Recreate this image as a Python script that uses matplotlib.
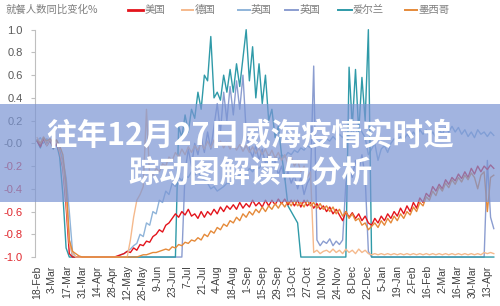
import numpy as np
import pandas as pd
import matplotlib
matplotlib.use('Agg')
import matplotlib.pyplot as plt
from matplotlib.patches import Rectangle
from matplotlib.lines import Line2D

plt.rcParams['font.family'] = ['Liberation Sans', 'Noto Sans CJK SC', 'DejaVu Sans']

# ---------------- data (one value every 3 days) ----------------
start_date = '2020-02-18'
n_points = 143

tick_labels = ['18-Feb', '3-Mar', '17-Mar', '31-Mar', '14-Apr', '28-Apr', '12-May', '26-May',
               '9-Jun', '23-Jun', '7-Jul', '21-Jul', '4-Aug', '18-Aug', '1-Sep', '15-Sep',
               '29-Sep', '13-Oct', '27-Oct', '10-Nov', '24-Nov', '8-Dec', '22-Dec', '5-Jan',
               '19-Jan', '2-Feb', '16-Feb', '2-Mar', '16-Mar', '30-Mar', '13-Apr']

series_names = ['美国', '德国', '英国', '英国', '爱尔兰', '墨西哥']

usa = [0.02, -0.03, 0.04, -0.02, 0.03, -0.04, 0.0, -0.08, -0.22, -0.55,
       -0.97, -1, -1, -1, -1, -1, -1, -1, -1, -1,
       -1, -1, -1, -1, -1, -0.99, -0.98, -0.97, -0.95, -0.96,
       -0.92, -0.94, -0.89, -0.9, -0.86, -0.87, -0.82, -0.8, -0.76, -0.78,
       -0.72, -0.7, -0.66, -0.62, -0.65, -0.6, -0.63, -0.58, -0.64, -0.62,
       -0.66, -0.6, -0.65, -0.6, -0.63, -0.58, -0.62, -0.56, -0.6, -0.55,
       -0.58, -0.54, -0.58, -0.52, -0.57, -0.53, -0.56, -0.5, -0.55, -0.52,
       -0.56, -0.5, -0.55, -0.5, -0.54, -0.49, -0.53, -0.49, -0.54, -0.5,
       -0.55, -0.5, -0.56, -0.5, -0.55, -0.52, -0.57, -0.53, -0.58, -0.55,
       -0.6, -0.56, -0.62, -0.58, -0.63, -0.68, -0.6, -0.65, -0.61, -0.66,
       -0.62, -0.68, -0.64, -0.7, -0.72, -0.66, -0.7, -0.64, -0.68, -0.62,
       -0.66, -0.6, -0.64, -0.57, -0.62, -0.55, -0.6, -0.52, -0.57, -0.48,
       -0.52, -0.44, -0.47, -0.38, -0.42, -0.36, -0.4, -0.32, -0.36, -0.3,
       -0.33, -0.27, -0.31, -0.25, -0.3, -0.22, -0.27, -0.2, -0.25, -0.2,
       -0.23, -0.19, -0.22]

germany = [0.05, 0.0, 0.06, -0.02, 0.04, -0.03, 0.02, -0.08, -0.2, -0.5,
           -0.88, -0.97, -1, -1, -1, -1, -1, -1, -1, -1,
           -1, -1, -1, -1, -1, -1, -1, -1, -1, -0.85,
           -0.65, -0.5, -0.45, -0.38, 0.3, -0.3, -0.28, -0.22, -0.25, -0.18,
           -0.2, -0.12, -0.15, -0.08, -0.12, -0.05, -0.1, -0.03, -0.08, -0.02,
           -0.06, 0.0, -0.05, 0.02, -0.04, 0.03, -0.03, 0.02, -0.04, 0.01,
           -0.05, 0.0, -0.06, -0.01, -0.07, -0.02, -0.08, -0.03, -0.09, -0.04,
           -0.1, -0.05, -0.12, -0.06, -0.13, -0.08, -0.15, -0.1, -0.18, -0.12,
           -0.2, -0.15, -0.25, -0.2, -0.3, -0.25, -0.96, -0.94, -0.97, -0.95,
           -0.94, -0.96, -0.93, -0.96, -0.94, -0.97, -0.93, -0.96, -0.94, -0.97,
           -0.93, -0.96, -0.94, -0.97, -0.98, -0.97, -0.98, -0.97, -0.98, -0.97,
           -0.98, -0.97, -0.98, -0.97, -0.98, -0.97, -0.98, -0.97, -0.98, -0.97,
           -0.98, -0.97, -0.98, -0.97, -0.98, -0.97, -0.98, -0.97, -0.98, -0.97,
           -0.98, -0.97, -0.98, -0.97, -0.98, -0.97, -0.98, -0.97, -0.98, -0.96,
           -0.97, -0.96, -0.97]

australia = [0.02, 0.05, 0.0, 0.04, 0.02, 0.0, 0.03, -0.05, -0.15, -0.3,
             -0.6, -0.95, -1, -1, -1, -1, -1, -1, -1, -1,
             -1, -1, -1, -1, -1, -1, -0.98, -0.97, -0.95, -0.93,
             -0.9, -0.88, -0.8, -0.82, -0.7, -0.72, -0.6, -0.62, -0.5, -0.52,
             -0.42, -0.45, -0.35, -0.38, -0.3, -0.33, -0.28, -0.3, -0.25, -0.28,
             -0.25, -0.3, -0.32, -0.35, -0.4, -0.38, -0.42, -0.4, -0.38, -0.35,
             -0.35, -0.32, -0.3, -0.28, -0.25, -0.27, -0.22, -0.25, -0.2, -0.22,
             -0.18, -0.2, -0.15, -0.17, -0.12, -0.14, -0.1, -0.12, -0.08, -0.1,
             -0.06, -0.08, -0.04, -0.06, -0.02, -0.04, 0.0, -0.02, 0.02, 0.0,
             0.04, 0.02, 0.06, 0.03, 0.08, 0.05, 0.1, 0.06, 0.12, 0.08,
             0.14, 0.1, 0.05, -0.1, -0.05, 0.0, -0.15, -0.05, -0.02, -0.08,
             0.0, 0.04, 0.02, 0.06, 0.03, 0.08, 0.05, 0.1, 0.06, 0.12,
             0.08, 0.12, 0.06, 0.1, 0.05, 0.12, 0.08, 0.14, 0.1, 0.15,
             0.1, 0.14, 0.08, 0.12, 0.06, 0.1, 0.05, 0.12, 0.08, 0.1,
             0.06, 0.1, 0.07]

uk = [0.03, -0.02, 0.05, 0.0, 0.03, -0.03, 0.0, -0.08, -0.2, -0.4,
      -0.85, -1, -1, -1, -1, -1, -1, -1, -1, -1,
      -1, -1, -1, -1, -1, -1, -1, -1, -1, -1,
      -1, -1, -1, -1, -1, -1, -1, -1, -1, -1,
      -1, -1, -1, -1, -1, -1, -0.25, -0.05, -0.2, 0.0,
      -0.1, 0.05, -0.08, 0.1, -0.05, 0.15, 0.35, 0.1, 0.45, 0.2,
      0.5, 0.25, 0.55, 0.3, 0.6, 0.1, -0.05, -0.12, -0.02, -0.15,
      -0.05, -0.18, -0.1, -0.22, -0.15, -0.28, -0.2, -0.32, -0.25, -0.35,
      -0.28, -0.4, -0.3, -0.45, -0.35, -0.3, 0.68, -0.85, -0.9, -0.86,
      -0.88, -0.84, -0.9, -0.86, -0.89, -0.85, -0.35, -0.2, -0.3, -0.15,
      -0.25, -0.1, -0.3, -0.95, -1, -1, -1, -1, -1, -1,
      -1, -1, -1, -1, -1, -1, -1, -1, -1, -1,
      -1, -1, -1, -1, -1, -1, -1, -1, -1, -1,
      -1, -1, -1, -1, -1, -1, -1, -1, -1, -1,
      -0.15, -0.65, -0.75]

ireland = [0.02, -0.04, 0.05, -0.02, 0.03, -0.05, 0.0, -0.12, -0.45, -0.92,
           -1, -1, -1, -1, -1, -1, -1, -1, -1, -1,
           -1, -1, -1, -1, -1, -1, -1, -1, -1, -1,
           -1, -1, -1, -1, -1, -1, -1, -1, -1, -1,
           -1, -1, -1, -1, 0.15, 0.05, 0.25, 0.1, 0.3, 0.22,
           0.45, 0.3, 0.6, 0.55, 0.94, 0.4, 0.45, 0.38, 0.6, 0.45,
           0.65, 0.45, 0.7, 0.5, 0.75, 1.0, 0.55, 0.85, 0.4, 0.7,
           0.35, 0.6, 0.2, 0.3, 0.05, 0.15, -0.1, -0.3, -0.55, -0.6,
           -0.65, -0.7, -1, -1, -1, -1, -1, -1, -1, -1,
           -1, -1, -1, -1, -1, -1, -1, 0.67, 0.15, 0.65,
           0.1, 0.58, 0.2, 1.0, -1, -1, -1, -1, -1, -1,
           -1, -1, -1, -1, -1, -1, -1, -1, -1, -1,
           -1, -1, -1, -1, -1, -1, -1, -1, -1, -1,
           -1, -1, -1, -1, -1, -1, -1, -1, -1, -1,
           -1, -1, -1]

mexico = [0.03, 0.0, 0.05, 0.02, 0.04, 0.01, 0.03, -0.02, -0.1, -0.35,
          -0.85, -0.95, -0.97, -0.99, -1, -1, -1, -1, -1, -1,
          -1, -1, -1, -1, -1, -1, -1, -1, -1, -1,
          -1, -1, -0.99, -0.98, -0.98, -0.97, -0.96, -0.96, -0.95, -0.94,
          -0.93, -0.94, -0.91, -0.92, -0.89, -0.9, -0.87, -0.88, -0.85, -0.86,
          -0.83, -0.85, -0.8, -0.82, -0.77, -0.79, -0.74, -0.76, -0.71, -0.73,
          -0.68, -0.7, -0.65, -0.68, -0.62, -0.65, -0.6, -0.63, -0.58, -0.61,
          -0.56, -0.6, -0.55, -0.58, -0.53, -0.57, -0.52, -0.56, -0.51, -0.55,
          -0.5, -0.55, -0.52, -0.56, -0.5, -0.55, -0.52, -0.57, -0.53, -0.58,
          -0.55, -0.6, -0.56, -0.62, -0.58, -0.64, -0.6, -0.66, -0.62, -0.68,
          -0.66, -0.72, -0.7, -0.76, -0.73, -0.7, -0.74, -0.68, -0.72, -0.66,
          -0.7, -0.64, -0.68, -0.62, -0.66, -0.6, -0.63, -0.56, -0.6, -0.52,
          -0.55, -0.47, -0.5, -0.42, -0.46, -0.38, -0.42, -0.35, -0.39, -0.32,
          -0.36, -0.3, -0.34, -0.28, -0.32, -0.26, -0.3, -0.4, -0.28, -0.25,
          -0.6, -0.3, -0.28]

colors = ['#e3141c', '#f5b98c', '#8fb4d9', '#8b9dd0', '#2f9aa8', '#e58a3a']

# ---------------- figure ----------------
dates = pd.date_range(start_date, periods=n_points, freq='3D')
tick_dates = pd.date_range(start_date, periods=len(tick_labels), freq='14D')

fig = plt.figure(figsize=(5, 3.06), dpi=100)
ax = fig.add_axes([0.07, 0.16, 0.924, 0.743])

# draw order: US under Mexico, lockdown lines (-1) end up orange like the original
all_series = [australia, uk, ireland, usa, germany, mexico]
all_colors = [colors[2], colors[3], colors[4], colors[0], colors[1], colors[5]]
for vals, c in zip(all_series, all_colors):
    ax.plot(dates, vals, color=c, lw=1.0, clip_on=False)

ax.set_ylim(-1.0, 1.0)
ax.set_xlim(dates[0] - pd.Timedelta(days=2), dates[0] + pd.Timedelta(days=429))

yt = np.round(np.arange(-1.0, 1.01, 0.2), 1)
ax.set_yticks(yt)
ax.set_yticklabels(['%.1f' % v for v in yt], fontsize=8)
for lab, v in zip(ax.get_yticklabels(), yt):
    lab.set_color('#e0282e' if v < 0 else '#595959')

ax.set_xticks(tick_dates)
ax.set_xticklabels(tick_labels, rotation=90, fontsize=7.5, color='#404040')

ax.tick_params(axis='x', length=0, pad=6)
ax.tick_params(axis='y', length=3, width=0.8, color='#bfbfbf', pad=6)
for s in ['top', 'right', 'bottom']:
    ax.spines[s].set_visible(False)
ax.spines['left'].set_color('#bfbfbf')
ax.spines['left'].set_linewidth(0.8)

# ---------------- legend row ----------------
W, H = 500.0, 306.0
ly = 1 - 10 / H
fig.text(5 / W, ly, '就餐人数同比变化%', fontsize=7.5, color='#7f7f7f',
         family='Noto Sans CJK SC', va='center', ha='left')
leg_pos = [(128, 143, 145), (182, 193, 195), (238, 250, 251),
           (285, 298, 300), (338, 352, 353), (405, 417, 418)]
for (x0, x1, xt), name, c in zip(leg_pos, series_names, colors):
    fig.add_artist(Line2D([x0 / W, x1 / W], [ly, ly], color=c,
                          lw=2.0 if c == colors[0] else 1.4, transform=fig.transFigure))
    fig.text(xt / W, ly, name, fontsize=7.5, color='#7f7f7f',
             family='Noto Sans CJK SC', va='center', ha='left')

# ---------------- title banner ----------------
band = Rectangle((0, 1 - 202 / H), 1, 98 / H, transform=fig.transFigure,
                 facecolor='#7b95d4', alpha=0.7, edgecolor='none', zorder=5)
fig.add_artist(band)
fig.text(0.5, 1 - 135.5 / H, '往年12月27日威海疫情实时追', fontsize=22, fontweight='bold',
         color='white', family='Noto Sans CJK SC', ha='center', va='center', zorder=6)
fig.text(0.5, 1 - 173.5 / H, '踪动图解读与分析', fontsize=22, fontweight='bold',
         color='white', family='Noto Sans CJK SC', ha='center', va='center', zorder=6)

fig.savefig('out.png', dpi=100)
